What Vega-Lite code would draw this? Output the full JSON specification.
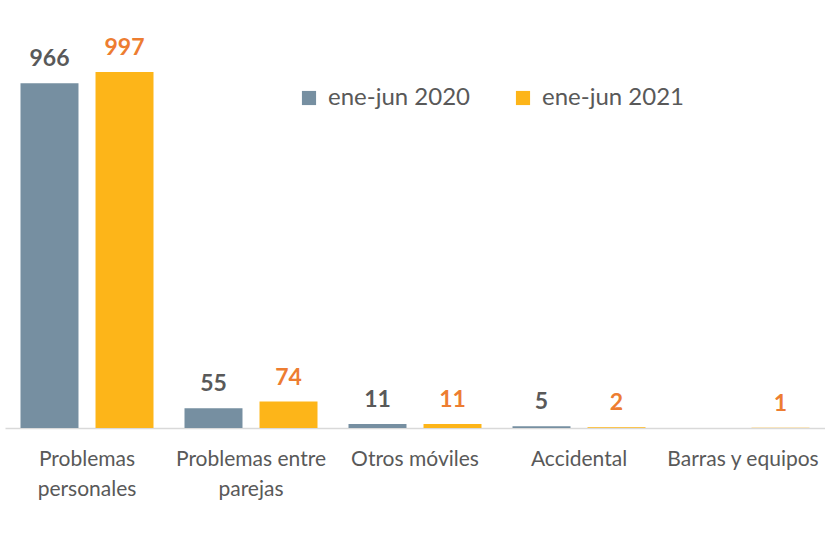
{
  "$schema": "https://vega.github.io/schema/vega-lite/v6.json",
  "width": 820,
  "height": 408,
  "autosize": {"type": "none"},
  "padding": {"left": 5, "top": 20, "right": 0, "bottom": 106},
  "background": "white",
  "config": {"view": {"stroke": null}, "font": "Lato"},
  "data": {
    "values": [
      {"cat": "Problemas personales", "serie": "ene-jun 2020", "value": 966},
      {"cat": "Problemas personales", "serie": "ene-jun 2021", "value": 997},
      {"cat": "Problemas entre parejas", "serie": "ene-jun 2020", "value": 55},
      {"cat": "Problemas entre parejas", "serie": "ene-jun 2021", "value": 74},
      {"cat": "Otros móviles", "serie": "ene-jun 2020", "value": 11},
      {"cat": "Otros móviles", "serie": "ene-jun 2021", "value": 11},
      {"cat": "Accidental", "serie": "ene-jun 2020", "value": 5},
      {"cat": "Accidental", "serie": "ene-jun 2021", "value": 2},
      {"cat": "Barras y equipos", "serie": "ene-jun 2020", "value": 0},
      {"cat": "Barras y equipos", "serie": "ene-jun 2021", "value": 1}
    ]
  },
  "encoding": {
    "x": {
      "field": "cat", "type": "nominal", "sort": null,
      "scale": {"paddingInner": 0.189, "paddingOuter": 0.0945},
      "axis": {
        "title": null, "ticks": false, "domainColor": "#d9d9d9", "domainWidth": 1.5,
        "labelAngle": 0, "labelFontSize": 21, "labelColor": "#595959", "labelPadding": 20,
        "labelLineHeight": 30, "labelBaseline": "top",
        "labelExpr": "datum.label == 'Problemas personales' ? ['Problemas','personales'] : datum.label == 'Problemas entre parejas' ? ['Problemas entre','parejas'] : datum.label"
      }
    },
    "xOffset": {"field": "serie", "type": "nominal", "scale": {"paddingInner": 0.227, "paddingOuter": 0}},
    "y": {"field": "value", "type": "quantitative", "scale": {"domain": [0, 1143], "nice": false}, "axis": null}
  },
  "layer": [
    {
      "mark": {"type": "bar"},
      "encoding": {
        "color": {
          "field": "serie", "type": "nominal",
          "scale": {"domain": ["ene-jun 2020", "ene-jun 2021"], "range": ["#768FA1", "#FDB519"]},
          "legend": {
            "title": null, "orient": "none", "direction": "horizontal",
            "legendX": 292, "legendY": 66,
            "symbolType": "square", "symbolSize": 200, "symbolStrokeWidth": 0,
            "labelFontSize": 24, "labelColor": "#595959", "labelOffset": 7,
            "columnPadding": 40
          }
        }
      }
    },
    {
      "transform": [{"filter": "datum.value > 0"}],
      "mark": {"type": "text", "baseline": "bottom", "dy": -12, "fontSize": 23, "fontWeight": "bold"},
      "encoding": {
        "text": {"field": "value", "type": "quantitative"},
        "color": {
          "field": "serie", "type": "nominal",
          "scale": {"domain": ["ene-jun 2020", "ene-jun 2021"], "range": ["#595959", "#ED7D31"]},
          "legend": null
        }
      }
    }
  ],
  "resolve": {"scale": {"color": "independent"}}
}
